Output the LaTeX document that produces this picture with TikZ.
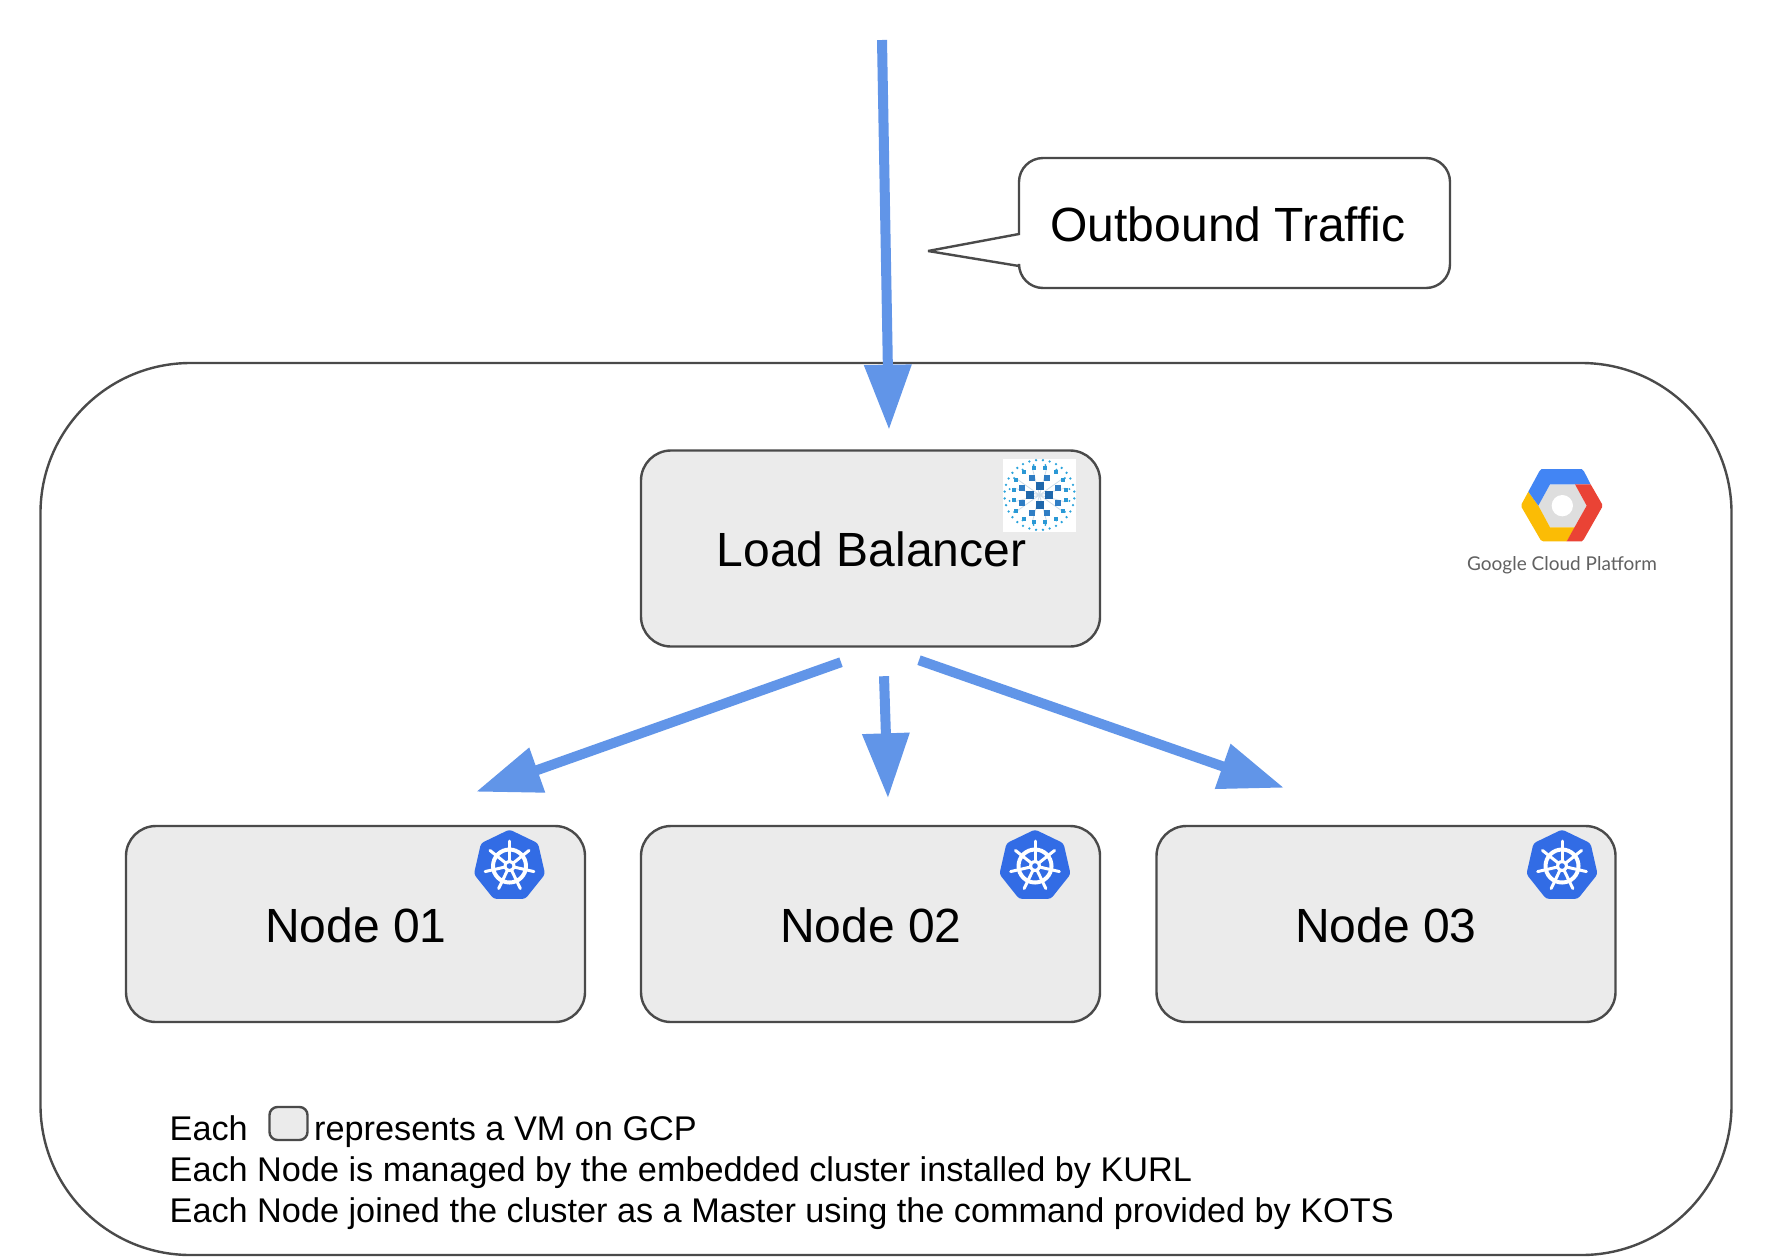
\documentclass[tikz,border=0pt]{standalone}
\usepackage{fontspec}
\setmainfont{Liberation Sans}
\newfontfamily\logofont{Lato}
\usetikzlibrary{arrows.meta,calc}
\definecolor{edgegrey}{HTML}{4A4A4A}
\definecolor{vmfill}{HTML}{EBEBEB}
\definecolor{flowblue}{HTML}{6195E8}
\definecolor{kubeblue}{HTML}{326CE5}
\definecolor{lbdark}{HTML}{1F67AB}
\definecolor{lbmid}{HTML}{2F7DC4}
\definecolor{lblight}{HTML}{29A3DC}
\definecolor{lbline}{HTML}{CFDDE8}
\definecolor{gblue}{HTML}{4285F4}
\definecolor{gred}{HTML}{EA4335}
\definecolor{gyellow}{HTML}{FBBC05}
\definecolor{ggrey}{HTML}{DEDEDE}
\newcommand{\lowered}[1]{\raisebox{0pt}[\dimexpr\height+2.5pt][\depth]{#1}}
\tikzset{
  x=1pt,y=-1pt,
  vmbox/.style={draw=edgegrey,fill=vmfill,line width=2.4pt,rounded corners=30pt,
    minimum width=459pt,minimum height=196pt,inner sep=0pt,font=\fontsize{48}{54}\selectfont},
  flow/.style={draw=flowblue,line width=10pt,-{Triangle[width=45pt,length=65pt]}},
  legend/.style={anchor=base west,inner sep=0pt,font=\fontsize{34.25}{40}\selectfont},
  pics/kube/.style={code={
    \fill[kubeblue,rounded corners=3pt]
      (-90:36.5) \foreach \k in {1,...,6}{ -- ({-90+\k*360/7}:36.5)} -- cycle;
    \draw[white,line width=4pt] (0,0) circle[radius=16.5];
    \foreach \k in {0,...,6}{
      \draw[white,line width=3pt,line cap=round] (0,0) -- ({-90+\k*360/7}:25);
    }
    \fill[white] (0,0) circle[radius=6];
    \fill[kubeblue] (0,0) circle[radius=2.8];
  }}
}
\begin{document}
\begin{tikzpicture}
\useasboundingbox (0,0) rectangle (1766,1256);
\fill[white] (0,0) rectangle (1766,1256);

% cluster outline
\node[draw=edgegrey,line width=2.4pt,rounded corners=150pt,minimum width=1691pt,
  minimum height=892pt,inner sep=0pt] (cluster) at (886,809) {};

% callout
\draw[edgegrey,line width=2.4pt,fill=white,miter limit=3]
  (1019,234) -- (1019,182) arc[start angle=180,end angle=270,radius=24]
  -- (1426,158) arc[start angle=-90,end angle=0,radius=24]
  -- (1450,264) arc[start angle=0,end angle=90,radius=24]
  -- (1043,288) arc[start angle=90,end angle=180,radius=24]
  -- (1019,266) -- (928,251) -- cycle;
\node[inner sep=0pt,font=\fontsize{48}{54}\selectfont] (callout) at (1228,224) {Outbound Traffic};
\coordinate (trafficstart) at (882,40);

% VM boxes
\node[vmbox] (lb) at (870.5,548.5) {\lowered{\hspace{2pt}Load Balancer}};
\node[vmbox] (n1) at (355.5,924) {\lowered{\hspace{1pt}Node 01}};
\node[vmbox] (n2) at (870.5,924) {\lowered{\hspace{1pt}Node 02}};
\node[vmbox] (n3) at (1386,924) {\lowered{Node 03}};

% load balancer logo
\fill[white] (1003,459) rectangle (1076,532);
\begin{scope}[shift={(1039.5,495)}]
  \draw[lbline,line width=0.8pt] (-24,-17) -- (24,17) (24,-17) -- (-24,17) (-7,-26) -- (7,26) (7,-26) -- (-7,26) (-26,-7) -- (26,7) (26,-7) -- (-26,7);
  \foreach \x/\y in {0/-9,-9.3/0,9.3/0,0/9.5}
    \fill[lbdark] (\x-4,\y-4) rectangle (\x+4,\y+4);
  \foreach \x/\y in {-17.7/-6.7,18/-6.7,-17.7/8,18/8,-7.3/-17,7.7/-17,-7.3/17.7,7.7/17.7}
    \fill[lbmid] (\x-3,\y-3) rectangle (\x+3,\y+3);
  \foreach \x/\y in {-23.3/-15.3,23.7/-15.3,-26/-4.7,26/-4.7,-26/5.3,26/5.3,-23.3/16,23.7/16,-16/-23.3,16.3/-23.3,-5.3/-27.3,5.7/-27.3,-16/24.3,16.3/24.3,-5.3/26.7,5.7/26.7}
    \fill[lblight!70!lbmid] (\x-2,\y-2) rectangle (\x+2,\y+2);
  \foreach \k in {0,...,31}
    \fill[lblight] ({\k*11.25+5.6}:35) circle[radius=1.3];
  \foreach \k in {0,...,15}
    \fill[lblight] ({\k*22.5+11.25}:30.5) circle[radius=1.1];
\end{scope}

% kubernetes logos
\pic at (509.5,866) {kube};
\pic at (1035,866) {kube};
\pic at (1562,866) {kube};

% GCP logo
\begin{scope}[shift={(1440,450)},x=0.3333pt,y=-0.3333pt]
  \fill[ggrey] (295,167) -- (330,103) -- (405,103) -- (440,167) -- (405,232) -- (330,232) -- cycle;
  \fill[white] (367,167) circle[radius=32];
  \fill[gyellow] (265,125) -- (295,167) -- (330,232) -- (405,232) -- (380,274) -- (310,274) -- (302,270) -- (245,172) -- (245,162) -- cycle;
  \fill[gblue] (265,125) -- (295,167) -- (330,103) -- (452,103) -- (432,64) -- (425,57) -- (305,57) -- (298,64) -- cycle;
  \fill[gred] (405,103) -- (452,103) -- (486,162) -- (486,172) -- (432,267) -- (425,274) -- (380,274) -- (440,167) -- cycle;
\end{scope}
\node[inner sep=0pt,text=black!62,font=\logofont\fontsize{19}{24}\selectfont] (gcptext) at (1562,565) {Google Cloud Platform};

% flows
\draw[flow] (trafficstart) -- ([xshift=18.5pt,yshift=19.5pt]lb.north);
\draw[flow] ([xshift=-29.5pt,yshift=-14.5pt]lb.south) -- ([xshift=120.5pt,yshift=33pt]n1.north);
\draw[flow] ([xshift=13.5pt,yshift=-28.5pt]lb.south) -- ([xshift=17.5pt,yshift=26.5pt]n2.north);
\draw[flow] ([xshift=48.5pt,yshift=-12.5pt]lb.south) -- ([xshift=-102pt,yshift=37pt]n3.north);

% legend
\node[legend] (leg1a) at (169.5,1140) {Each};
\node[draw=edgegrey,fill=vmfill,line width=2.4pt,rounded corners=8pt,minimum width=38pt,minimum height=33pt,inner sep=0pt] (legbox) at (288.5,1123.5) {};
\node[legend] (leg1b) at (314,1140) {represents a VM on GCP};
\node[legend] (leg2) at (169.5,1181) {Each Node is managed by the embedded cluster installed by KURL};
\node[legend] (leg3) at (169.5,1222) {Each Node joined the cluster as a Master using the command provided by KOTS};
\end{tikzpicture}
\end{document}
